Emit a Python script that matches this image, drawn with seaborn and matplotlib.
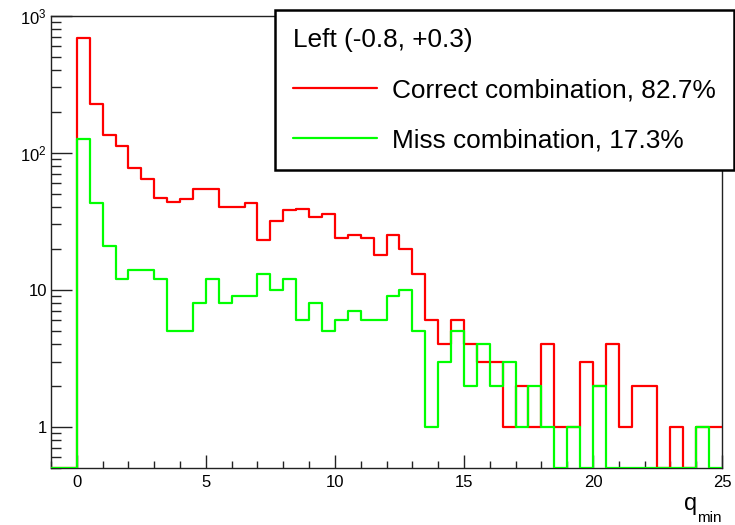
import numpy as np
import pandas as pd
import matplotlib
matplotlib.use("Agg")
import matplotlib.pyplot as plt
import seaborn as sns
from matplotlib.lines import Line2D
from matplotlib.ticker import FixedLocator, FixedFormatter, LogLocator, NullFormatter, MultipleLocator

# histogram binning (0.5 wide bins from -1 to 25)
bin_lo, bin_hi, bin_w = -1.0, 25.0, 0.5
y_lo, y_hi = 0.5, 1000

# counts per bin
correct_counts = [0, 0,
                  690, 226, 134, 112, 78, 64, 47, 44, 46, 54,
                  54, 40, 40, 43, 23, 32, 38, 39, 34, 36,
                  24, 25, 24, 18, 25, 20, 13, 6, 4, 6,
                  4, 3, 3, 1, 2, 1, 4, 1, 1, 3,
                  2, 4, 1, 2, 2, 0, 1, 0, 1, 1]
miss_counts = [0, 0,
               126, 43, 21, 12, 14, 14, 12, 5, 5, 8,
               12, 8, 9, 9, 13, 10, 12, 6, 8, 5,
               6, 7, 6, 6, 9, 10, 5, 1, 3, 5,
               2, 4, 2, 3, 1, 2, 1, 0, 1, 0,
               2, 0, 0, 0, 0, 0, 0, 0, 1, 0]

legend_title = "Left (-0.8, +0.3)"
correct_label = "Correct combination, 82.7%"
miss_label = "Miss combination, 17.3%"

y_ticks = [1, 10, 100, 1000]
y_ticklabels = ["1", "10", r"$\mathregular{10^{2}}$", r"$\mathregular{10^{3}}$"]
x_ticks = [0, 5, 10, 15, 20, 25]

edges = np.arange(bin_lo, bin_hi + bin_w / 2, bin_w)
centers = edges[:-1] + bin_w / 2
df = pd.DataFrame({"q": centers, "correct": correct_counts, "miss": miss_counts})
# empty bins are drawn on the bottom of the log axis, like ROOT does
df["correct_draw"] = df["correct"].clip(lower=y_lo)
df["miss_draw"] = df["miss"].clip(lower=y_lo)

sns.set_theme(style="ticks")
plt.rcParams["font.family"] = ["Liberation Sans", "DejaVu Sans"]
plt.rcParams["mathtext.fontset"] = "custom"
plt.rcParams["mathtext.rm"] = "Liberation Sans"
plt.rcParams["text.color"] = "black"

W, H = 735, 525
fig = plt.figure(figsize=(7.35, 5.25), dpi=100)
ax = fig.add_axes([51 / W, 1 - 468.3 / H, (722 - 51) / W, (468.3 - 15.7) / H])

sns.histplot(data=df, x="q", weights="correct_draw", binwidth=bin_w, binrange=(bin_lo, bin_hi),
             element="step", fill=False, color="#ff0000", linewidth=1.6, zorder=3, ax=ax)
sns.histplot(data=df, x="q", weights="miss_draw", binwidth=bin_w, binrange=(bin_lo, bin_hi),
             element="step", fill=False, color="#00ff00", linewidth=1.6, zorder=3.1, ax=ax)

ax.set_yscale("log")
ax.set_xlim(bin_lo, bin_hi)
ax.set_ylim(y_lo, y_hi)
ax.set_xlabel("")
ax.set_ylabel("")

ax.yaxis.set_major_locator(FixedLocator(y_ticks))
ax.yaxis.set_major_formatter(FixedFormatter(y_ticklabels))
ax.yaxis.set_minor_locator(LogLocator(base=10, subs=np.arange(2, 10)))
ax.yaxis.set_minor_formatter(NullFormatter())
ax.xaxis.set_major_locator(FixedLocator(x_ticks))
ax.xaxis.set_minor_locator(MultipleLocator(1))

for s in ax.spines.values():
    s.set_color("#222222")
    s.set_linewidth(1.0)
ax.tick_params(axis="y", which="major", direction="in", length=15, width=1,
               pad=3, labelsize=12, colors="#222222", labelcolor="black")
ax.tick_params(axis="y", which="minor", direction="in", length=7.5, width=1,
               colors="#222222")
ax.tick_params(axis="x", which="major", direction="in", length=9.5, width=1,
               pad=5, labelsize=12, colors="#222222", labelcolor="black")
ax.tick_params(axis="x", which="minor", direction="in", length=5, width=1,
               colors="#222222")
ax.tick_params(top=False, right=False, which="both")

# axis title q_min at the right end
fig.text(697 / W, 1 - 510 / H, "q", ha="right", va="baseline", fontsize=17)
fig.text(722 / W, 1 - 522.5 / H, "min", ha="right", va="baseline", fontsize=11)

handles = [Line2D([], [], color="#ff0000", lw=1.6),
           Line2D([], [], color="#00ff00", lw=1.6)]
leg = fig.legend(handles, [correct_label, miss_label], title=legend_title,
                 loc="upper right", bbox_to_anchor=(734 / W, 1 - 10 / H),
                 borderaxespad=0, fontsize=18.9, title_fontsize=18.9,
                 alignment="left", frameon=True, fancybox=False, framealpha=1,
                 edgecolor="black", handlelength=3.2, handletextpad=0.6,
                 borderpad=0.68, labelspacing=1.0)
leg.get_frame().set_linewidth(1.8)

fig.savefig("out.png", dpi=100)
